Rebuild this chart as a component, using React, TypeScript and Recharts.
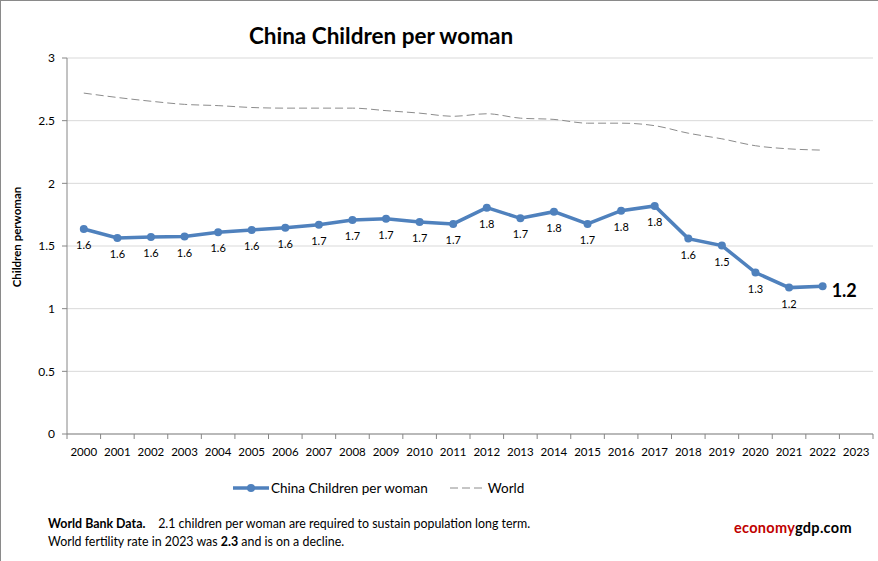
import React from 'react';
import { LineChart, Line, XAxis, YAxis, CartesianGrid, LabelList } from 'recharts';

const years = ['2000','2001','2002','2003','2004','2005','2006','2007','2008','2009','2010','2011','2012','2013','2014','2015','2016','2017','2018','2019','2020','2021','2022','2023'];
const china: (number | null)[] = [1.636,1.564,1.572,1.575,1.61,1.628,1.645,1.67,1.708,1.718,1.692,1.676,1.806,1.721,1.774,1.676,1.782,1.82,1.559,1.503,1.288,1.168,1.179,null];
const world: (number | null)[] = [2.72,2.685,2.655,2.63,2.62,2.605,2.6,2.6,2.6,2.58,2.56,2.535,2.555,2.52,2.51,2.48,2.48,2.46,2.4,2.355,2.3,2.275,2.265,null];
const yTicks = [0, 0.5, 1, 1.5, 2, 2.5, 3];

const data = years.map((y, i) => ({ year: y, china: china[i], world: world[i] }));
let lastChina = 0;
china.forEach((v, i) => { if (v != null) lastChina = i; });

const W = 878, H = 561;
const M = { top: 58, right: 5, bottom: 97, left: 0 };
const YW = 67;
const BAND = (W - M.left - M.right - YW) / years.length;
const FONT = "Lato, 'Open Sans', sans-serif";
const AXIS = '#868686';

const XTick = (props: any) => {
  const { x, y, payload, index } = props;
  const half = BAND / 2;
  return (
    <g>
      <line x1={x - half} x2={x - half} y1={y} y2={y + 5} stroke={AXIS} />
      {index === years.length - 1 && <line x1={x + half} x2={x + half} y1={y} y2={y + 5} stroke={AXIS} />}
      <text x={x} y={y + 22} textAnchor="middle" fontSize={11.5} fill="#000">{payload.value}</text>
    </g>
  );
};

const ChinaLabel = (p: any) => {
  const { x, y, value, index } = p;
  if (value == null) return null;
  if (index === lastChina) {
    return <text x={x + 9} y={y + 11} fontSize={18} fontWeight="bold" fill="#000">{Number(value).toFixed(1)}</text>;
  }
  return <text x={x} y={y + 20} textAnchor="middle" fontSize={11} fill="#000">{Number(value).toFixed(1)}</text>;
};

export default function App() {
  return (
    <div style={{ position: 'absolute', left: 0, top: 0, width: W - 1, height: H - 1, border: '1px solid #8a8a8a', background: '#fff', fontFamily: FONT, overflow: 'hidden' }}>
      <div style={{ position: 'absolute', left: 0, top: 22, width: 760, textAlign: 'center', fontSize: 22.5, fontWeight: 'bold', lineHeight: '26px', color: '#000' }}>
        China Children per woman
      </div>
      <div style={{ position: 'absolute', left: 16, top: 236, width: 0, height: 0 }}>
        <div style={{ position: 'absolute', left: -80, top: -8, width: 160, textAlign: 'center', transform: 'rotate(-90deg)', fontSize: 11.5, fontWeight: 'bold', lineHeight: '16px', color: '#000' }}>
          Children perwoman
        </div>
      </div>
      <div style={{ position: 'absolute', left: -1, top: -1 }}>
        <LineChart width={W} height={H} data={data} margin={M}>
          <CartesianGrid vertical={false} stroke="#d9d9d9" />
          <XAxis dataKey="year" scale="band" height={30} tick={<XTick />} tickLine={false} tickSize={0} tickMargin={0} axisLine={{ stroke: AXIS }} interval={0} />
          <YAxis width={YW} domain={[0, 3]} ticks={yTicks} interval={0} tick={{ fontSize: 12, fill: '#000' }} tickLine={{ stroke: AXIS }} tickSize={5} tickMargin={7} axisLine={{ stroke: AXIS }} />
          <Line dataKey="world" type="monotone" stroke="#8c8c8c" strokeWidth={1} strokeDasharray="8 4" dot={false} isAnimationActive={false} connectNulls={false} />
          <Line dataKey="china" type="linear" stroke="#4f81bd" strokeWidth={3.5} dot={{ r: 4, fill: '#4f81bd', stroke: '#4f81bd', strokeWidth: 0 }} isAnimationActive={false}>
            <LabelList dataKey="china" content={<ChinaLabel />} />
          </Line>
        </LineChart>
      </div>
      <div style={{ position: 'absolute', left: 231, top: 478, height: 18, display: 'flex', alignItems: 'center', fontSize: 13.5, color: '#000' }}>
        <svg width={38} height={18}><line x1={1} x2={37} y1={9} y2={9} stroke="#4f81bd" strokeWidth={3.5} /><circle cx={19} cy={9} r={4} fill="#4f81bd" /></svg>
        <span style={{ marginLeft: 1 }}>China Children per woman</span>
        <svg width={34} height={18} style={{ marginLeft: 22 }}><line x1={0} x2={32} y1={9} y2={9} stroke="#8c8c8c" strokeWidth={1} strokeDasharray="8 4" /></svg>
        <span style={{ marginLeft: 4 }}>World</span>
      </div>
      <div style={{ position: 'absolute', left: 47, top: 514, fontSize: 12.4, lineHeight: '18px', color: '#000', whiteSpace: 'pre' }}>
        <div><b>World Bank Data.</b>{'    '}2.1 children per woman are required to sustain population long term.</div>
        <div>World fertility rate in 2023 was <b>2.3</b> and is on a decline.</div>
      </div>
      <div style={{ position: 'absolute', left: 733, top: 518, fontSize: 14.5, fontWeight: 'bold', lineHeight: '18px', letterSpacing: 0.3 }}>
        <span style={{ color: '#c00000' }}>economy</span><span style={{ color: '#000' }}>gdp.com</span>
      </div>
    </div>
  );
}
